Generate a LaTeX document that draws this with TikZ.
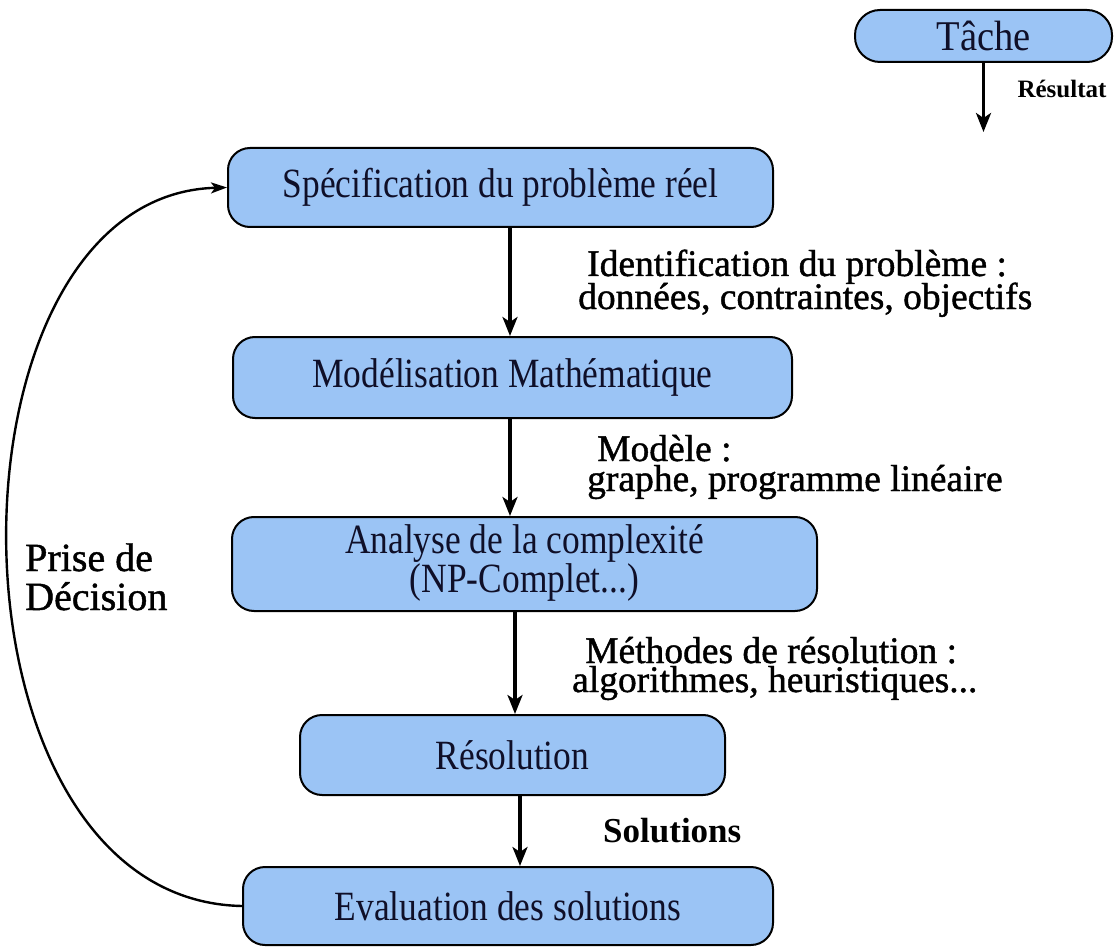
\documentclass[tikz,border=0pt]{standalone}
\usepackage{fontspec}
\usepackage{graphicx}
\setmainfont{Liberation Serif}
\newfontfamily\labfont{Liberation Serif}[FakeBold=1.1]
\usetikzlibrary{arrows.meta}
\definecolor{boxfill}{RGB}{155,196,245}
\definecolor{boxtext}{RGB}{15,15,40}
\newcommand\boxtxt[1]{\scalebox{0.97}[1.14]{\fontsize{36.5}{32}\selectfont #1}}
\begin{document}
\begin{tikzpicture}[x=1pt,y=-1pt,
  stepbox/.style={draw=black, line width=2pt, fill=boxfill, rounded corners=22pt, inner sep=0pt, text=boxtext},
  flow/.style={-{Stealth[length=19pt,width=15pt,inset=5pt]}, line width=3.2pt},
  loop/.style={-{Stealth[length=16pt,width=11pt,inset=4pt]}, line width=2.4pt},
  lab/.style={font=\labfont\fontsize{37.5}{38}\selectfont, inner sep=0pt, text=black, anchor=base west},
  blab/.style={font=\bfseries, inner sep=0pt, text=black}]
\useasboundingbox (0,0) rectangle (1120,952);
% boxes
\node[stepbox, minimum width=257pt, minimum height=52pt, rounded corners=25pt] (t) at (983.5,36) {\scalebox{1}[1.1]{\fontsize{38.5}{40}\selectfont Tâche}};
\node[stepbox, minimum width=545pt, minimum height=79pt] (b1) at (500.5,187.5) {\boxtxt{Spécification du problème réel}};
\node[stepbox, minimum width=559pt, minimum height=81pt] (b2) at (512.5,377.5) {\boxtxt{Modélisation Mathématique}};
\node[stepbox, minimum width=585pt, minimum height=94pt] (b3) at (524.5,564) {\boxtxt{\begin{tabular}{@{}c@{}}Analyse de la complexité\\(NP-Complet...)\end{tabular}}};
\node[stepbox, minimum width=425pt, minimum height=80pt] (b4) at (512.5,755) {\boxtxt{Résolution}};
\node[stepbox, minimum width=530pt, minimum height=78pt] (b5) at (508,906) {\boxtxt{Evaluation des solutions}};
% labels
\node[blab, font=\bfseries\fontsize{25}{28}\selectfont] (res) at (1062,89) {Résultat};
\node[lab] (l1a) at (587,276) {Identification du problème :};
\node[lab] (l1b) at (578,309) {données, contraintes, objectifs};
\node[lab] (l2a) at (597,461) {Modèle :};
\node[lab] (l2b) at (587,491) {graphe, programme linéaire};
\node[lab] (l3a) at (585,663) {Méthodes de résolution :};
\node[lab] (l3b) at (572,692) {algorithmes, heuristiques...};
\node[blab, font=\bfseries\fontsize{35}{38}\selectfont, anchor=base west] (sol) at (603,842) {Solutions};
\node[lab, font=\labfont\fontsize{40}{40}\selectfont] (pd1) at (25,571) {Prise de};
\node[lab, font=\labfont\fontsize{40}{40}\selectfont] (pd2) at (25,610) {Décision};
% connectors
\coordinate (r) at (983.5,132);
\coordinate (xa) at (510,0);
\coordinate (xb) at (515,0);
\coordinate (xc) at (520,0);
\draw[flow] (t.south) -- (r);
\draw[flow] (xa |- b1.south) -- (xa |- b2.north);
\draw[flow] (xa |- b2.south) -- (xa |- b3.north);
\draw[flow] (xb |- b3.south) -- (xb |- b4.north);
\draw[flow] (xc |- b4.south) -- (xc |- b5.north);
\draw[loop] (b5.west) .. controls (-68,900) and (-68,195) .. (b1.west);
\end{tikzpicture}
\end{document}
